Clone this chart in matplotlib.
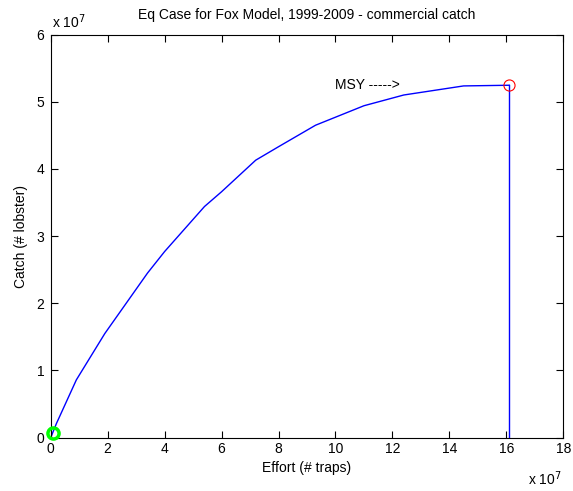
import numpy as np
import matplotlib.pyplot as plt

plt.rcParams['font.family'] = ['Liberation Sans', 'DejaVu Sans']
plt.rcParams['font.size'] = 10

## equilibrium curve (units of 1e7)
effort = np.array([0, 0.2, 0.9, 1.9, 3.4, 4.0, 5.4, 6.0, 7.2, 8.0,
                   9.3, 11.0, 12.4, 14.5, 16.1]) * 1e7
catch = np.array([0, 0.21, 0.86, 1.55, 2.45, 2.77, 3.44, 3.66, 4.13, 4.33,
                  4.65, 4.94, 5.10, 5.235, 5.245]) * 1e7

## maximum sustainable yield point and starting point
e_msy = 16.1e7
c_msy = 5.245e7
e_start = 0.09e7
c_start = 0.065e7

fig = plt.figure(figsize=(5.73, 4.91), dpi=100)
ax = fig.add_axes([0.0885, 0.1086, 0.8945, 0.8211])

ax.plot(effort, catch, color='blue', lw=1.0)
ax.plot([e_msy, e_msy], [c_msy, 0], color='blue', lw=1.0)
ax.plot(e_msy, c_msy, 'o', mfc='none', mec='red', ms=8, mew=0.8)
ax.plot(e_start, c_start, 'o', mfc='none', mec='#00ff00', ms=8, mew=2.5,
        clip_on=False, zorder=5)
ax.text(10e7, c_msy, 'MSY ----->', va='center', ha='left', fontsize=10)

ax.set_xlim(0, 18e7)
ax.set_ylim(0, 6e7)
ax.set_xticks(np.arange(0, 19, 2) * 1e7)
ax.set_xticklabels([str(v) for v in range(0, 19, 2)])
ax.set_yticks(np.arange(0, 7, 1) * 1e7)
ax.set_yticklabels([str(v) for v in range(0, 7)])
ax.tick_params(direction='in', top=True, right=True, length=5, width=0.8, pad=3)
ax.tick_params(axis='y', pad=4.5)
for s in ax.spines.values():
    s.set_linewidth(0.8)

ax.set_xlabel('Effort (# traps)', labelpad=4)
ax.set_ylabel('Catch (# lobster)', labelpad=6)
fig.text(0.5357, 0.969, 'Eq Case for Fox Model, 1999-2009 - commercial catch',
         ha='center', va='center', fontsize=10)

## exponent labels, matlab style
fig.text(0.09, 0.955, r'x 10$^{7}$', fontsize=10, ha='left', va='center')
fig.text(0.922, 0.026, r'x 10$^{7}$', fontsize=10, ha='left', va='center')

fig.savefig('out.png', dpi=100)
